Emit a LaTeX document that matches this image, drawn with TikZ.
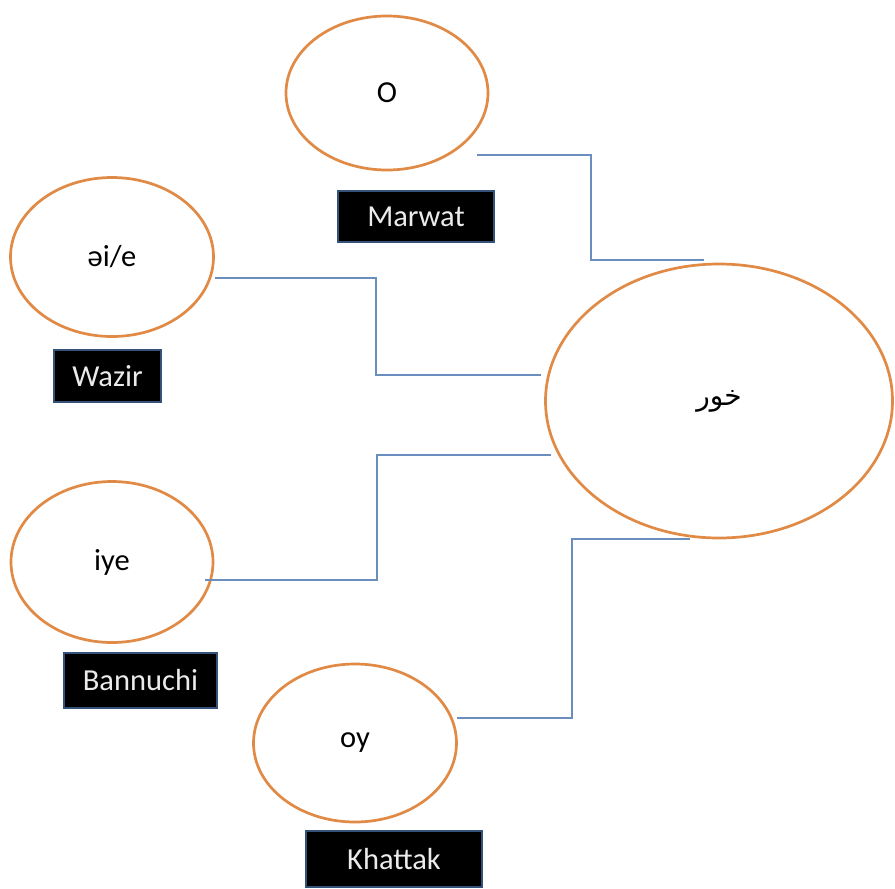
\documentclass[tikz,border=0pt]{standalone}
\usepackage{fontspec}
\setmainfont{Carlito}
\newfontfamily\arabicfont[Script=Arabic]{DejaVu Sans}
\TeXXeTstate=1
\usetikzlibrary{shapes.geometric,calc}
\definecolor{ellorange}{HTML}{E08A45}
\definecolor{connblue}{HTML}{6A8FBE}
\definecolor{boxborder}{HTML}{34527A}
\tikzset{
  bubble/.style={ellipse, draw=ellorange, line width=2.7pt, fill=white, inner sep=0pt,
    font=\fontsize{30.5}{34}\selectfont},
  tag/.style={rectangle, draw=boxborder, line width=2pt, fill=black, text=white!92!black,
    inner sep=0pt, font=\fontsize{30.5}{34}\selectfont},
  conn/.style={draw=connblue, line width=1.6pt}
}
\begin{document}
\begin{tikzpicture}[x=1pt,y=-1pt]
\useasboundingbox (0,0) rectangle (895,889);
% bubbles
\node[bubble, minimum width=202pt, minimum height=154pt] (m) at (387,93) {O};
\node[bubble, minimum width=203pt, minimum height=159pt] (w) at (112,257) {əi/e};
\node[bubble, minimum width=202pt, minimum height=161pt] (b) at (112,562) {iye};
\node[bubble, minimum width=203pt, minimum height=158pt] (k) at (355,743) {oy};
\node[bubble, minimum width=347pt, minimum height=274pt] (c) at (719,401) {\arabicfont\fontsize{28}{32}\selectfont\beginR خور\endR};
% tags
\node[tag, minimum width=156pt, minimum height=51pt] (mt) at (416,216.5) {Marwat};
\node[tag, minimum width=107pt, minimum height=52pt] (wt) at (107.5,376) {Wazir};
\node[tag, minimum width=153pt, minimum height=55pt] (bt) at (140.5,680.5) {Bannuchi};
\node[tag, minimum width=176pt, minimum height=56pt] (kt) at (394,859) {Khattak};
% connectors
\draw[conn] ([shift={(90,62)}]m.center) -- ++(114,0) |- ([shift={(-15,-141)}]c.center);
\draw[conn] ([shift={(103,21)}]w.center) -- ++(161,0) |- ([shift={(-178,-26)}]c.center);
\draw[conn] ([shift={(93,18)}]b.center) -- ++(172,0) |- ([shift={(-168,54)}]c.center);
\draw[conn] ([shift={(102,-25)}]k.center) -- ++(115,0) |- ([shift={(-29,138)}]c.center);
\end{tikzpicture}
\end{document}
